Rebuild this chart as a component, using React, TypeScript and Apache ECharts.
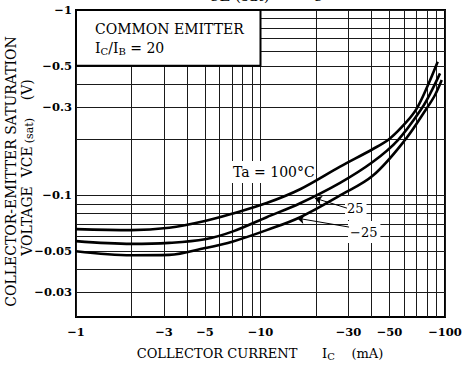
import React, { useEffect, useRef } from 'react';
import * as echarts from 'echarts';

// Axis definitions (absolute values; chart shows them with a minus sign)
const X_LABELS = [1, 3, 5, 10, 30, 50, 100];
const Y_LABELS = [1, 0.5, 0.3, 0.1, 0.05, 0.03];
const X_GRID = [1, 2, 3, 4, 5, 6, 7, 8, 9, 10, 20, 30, 40, 50, 60, 70, 80, 90, 100];
const Y_GRID = [0.03, 0.04, 0.05, 0.06, 0.07, 0.08, 0.09, 0.1, 0.2, 0.3, 0.4, 0.5, 0.6, 0.7, 0.8, 0.9, 1];
const X_RANGE = [1, 100];
const Y_RANGE = [0.0221, 1];

// Ta = 100°C
const IC_100 = [1, 2, 3.2, 5, 7.1, 10.8, 16.4, 27, 40.7, 50.3, 62, 70.5, 80, 91.3];
const VCE_100 = [0.0658, 0.065, 0.067, 0.0728, 0.08, 0.091, 0.108, 0.143, 0.178, 0.203, 0.25, 0.296, 0.384, 0.526];
// Ta = 25°C
const IC_25 = [1, 2, 3.2, 5, 7.1, 10.8, 16.4, 27, 40.7, 55.6, 75, 85, 94];
const VCE_25 = [0.0567, 0.0548, 0.0555, 0.058, 0.064, 0.0763, 0.0908, 0.117, 0.152, 0.199, 0.296, 0.37, 0.455];
// Ta = -25°C
const IC_M25 = [1, 2, 3.2, 5, 7.1, 10.8, 16.4, 27, 40.7, 60.7, 79.8, 88.3, 96];
const VCE_M25 = [0.05, 0.0476, 0.0478, 0.052, 0.0565, 0.065, 0.0763, 0.1, 0.128, 0.199, 0.296, 0.348, 0.419];

// Legend box region (data space) and arrow annotations
const BOX_X = [1, 10];
const BOX_Y = [0.5, 1];
const ARROW_25 = [[29.4, 0.0854], [19.7, 0.0967]];
const ARROW_M25 = [[30.2, 0.0675], [15.8, 0.0754]];

const FONT = "'DejaVu Serif', serif";
const lg = (v: number) => Math.log10(v);
const fmt = (v: number) => '\u2212' + String(Number(Math.pow(10, v).toPrecision(2)));
const curve = (xs: number[], ys: number[]) => xs.map((x, i) => [lg(x), lg(ys[i])]);

const lineSeries = (name: string, xs: number[], ys: number[], extra: any = {}) => ({
  type: 'line',
  name,
  data: curve(xs, ys),
  smooth: 0.35,
  showSymbol: false,
  symbol: 'none',
  lineStyle: { color: '#000', width: 2.6 },
  z: 5,
  ...extra,
});

const arrowLine = (pts: number[][]) => ({
  silent: true,
  symbol: ['none', 'arrow'],
  symbolSize: 7,
  lineStyle: { color: '#000', width: 1, type: 'solid' },
  label: { show: false },
  emphasis: { disabled: true },
  data: [[{ coord: [lg(pts[0][0]), lg(pts[0][1])] }, { coord: [lg(pts[1][0]), lg(pts[1][1])] }]],
});

const gridLine = { show: true, lineStyle: { color: '#1a1a1a', width: 1 } };

const tickLabel = {
  formatter: fmt,
  color: '#000',
  fontFamily: FONT,
  fontSize: 11.5,
  fontWeight: 'bold',
  showMinLabel: true,
  showMaxLabel: true,
};

const option: any = {
  animation: false,
  backgroundColor: '#fff',
  grid: { left: 76, right: 22, top: 10, bottom: 61, show: true, borderColor: '#000', borderWidth: 2, backgroundColor: 'transparent' },
  xAxis: {
    type: 'value',
    min: lg(X_RANGE[0]),
    max: lg(X_RANGE[1]),
    axisLine: { show: false },
    axisTick: { show: false, customValues: X_GRID.map(lg) },
    splitLine: gridLine,
    axisLabel: { ...tickLabel, customValues: X_LABELS.map(lg), margin: 9 },
  },
  yAxis: {
    type: 'value',
    min: lg(Y_RANGE[0]),
    max: lg(Y_RANGE[1]),
    axisLine: { show: false },
    axisTick: { show: false, customValues: Y_GRID.map(lg) },
    splitLine: gridLine,
    axisLabel: { ...tickLabel, customValues: Y_LABELS.map(lg), margin: 4 },
  },
  series: [
    lineSeries('Ta = 100°C', IC_100, VCE_100, {
      markArea: {
        silent: true,
        itemStyle: { color: '#fff', borderColor: '#000', borderWidth: 2 },
        label: {
          show: true,
          position: 'insideTopLeft',
          distance: 0,
          padding: [10, 0, 0, 20],
          color: '#000',
          fontFamily: FONT,
          formatter: '{a|COMMON EMITTER}\n{a|I}{s|C}{a|/I}{s|B}{a| = 20}',
          rich: {
            a: { fontFamily: FONT, fontSize: 14, lineHeight: 19, color: '#000' },
            s: { fontFamily: FONT, fontSize: 10, color: '#000', padding: [8, 0, 0, 0] },
          },
        },
        data: [[{ xAxis: lg(BOX_X[0]), yAxis: lg(BOX_Y[0]) }, { xAxis: lg(BOX_X[1]), yAxis: lg(BOX_Y[1]) }]],
      },
    }),
    lineSeries('Ta = 25°C', IC_25, VCE_25, { markLine: arrowLine(ARROW_25) }),
    lineSeries('Ta = −25°C', IC_M25, VCE_M25, { markLine: arrowLine(ARROW_M25) }),
  ],
  graphic: [
    {
      type: 'text',
      x: 195,
      y: -12,
      z: 100,
      style: {
        text: '{m|V}{s|CE (sat)}{m| \u2014  I}{s|C}',
        align: 'left',
        verticalAlign: 'middle',
        fill: '#000',
        rich: {
          m: { fontFamily: FONT, fontSize: 18, fill: '#000' },
          s: { fontFamily: FONT, fontSize: 15, fill: '#000', padding: [16, 0, 0, 0] },
        },
      },
    },
    {
      type: 'text',
      x: 11,
      y: 171.5,
      rotation: Math.PI / 2,
      z: 100,
      style: {
        text: 'COLLECTOR-EMITTER SATURATION',
        fontFamily: FONT,
        fontSize: 14,
        fill: '#000',
        align: 'center',
        verticalAlign: 'middle',
      },
    },
    {
      type: 'text',
      x: 27,
      y: 167.5,
      rotation: Math.PI / 2,
      z: 100,
      style: {
        text: '{a|VOLTAGE  VCE}{b|(sat)}{a|    (V)}',
        align: 'center',
        verticalAlign: 'middle',
        fill: '#000',
        rich: {
          a: { fontFamily: FONT, fontSize: 14, fill: '#000' },
          b: { fontFamily: FONT, fontSize: 11, fill: '#000', padding: [4, 0, 0, 3] },
        },
      },
    },
    {
      type: 'text',
      x: 260,
      y: 353,
      z: 100,
      style: {
        text: '{a|COLLECTOR CURRENT      I}{s|C}{a|    (mA)}',
        align: 'center',
        verticalAlign: 'middle',
        fill: '#000',
        rich: {
          a: { fontFamily: FONT, fontSize: 13, fill: '#000' },
          s: { fontFamily: FONT, fontSize: 10, fill: '#000', padding: [6, 0, 0, 0] },
        },
      },
    },
    {
      type: 'text',
      x: 226,
      y: 172,
      z: 3,
      style: {
        text: 'Ta = 100°C',
        fontFamily: FONT,
        fontSize: 14,
        fill: '#000',
        align: 'left',
        verticalAlign: 'middle',
        backgroundColor: '#fff',
        padding: [5, 0, 3, 7],
      },
    },
    {
      type: 'text',
      x: 345,
      y: 208,
      z: 3,
      style: {
        text: '25',
        fontFamily: FONT,
        fontSize: 13,
        fill: '#000',
        align: 'left',
        verticalAlign: 'middle',
        backgroundColor: '#fff',
        padding: [6, 3, 5, 2],
      },
    },
    {
      type: 'text',
      x: 348,
      y: 232,
      z: 3,
      style: {
        text: '\u221225',
        fontFamily: FONT,
        fontSize: 13,
        fill: '#000',
        align: 'left',
        verticalAlign: 'middle',
        backgroundColor: '#fff',
        padding: [5, 3, 4, 2],
      },
    },
  ],
};

export default function App() {
  const ref = useRef<HTMLDivElement>(null);
  useEffect(() => {
    document.body.style.margin = '0';
    const chart = echarts.init(ref.current!, null, { renderer: 'svg' });
    chart.setOption(option);
    return () => chart.dispose();
  }, []);
  return <div ref={ref} style={{ width: 467, height: 378 }} />;
}
